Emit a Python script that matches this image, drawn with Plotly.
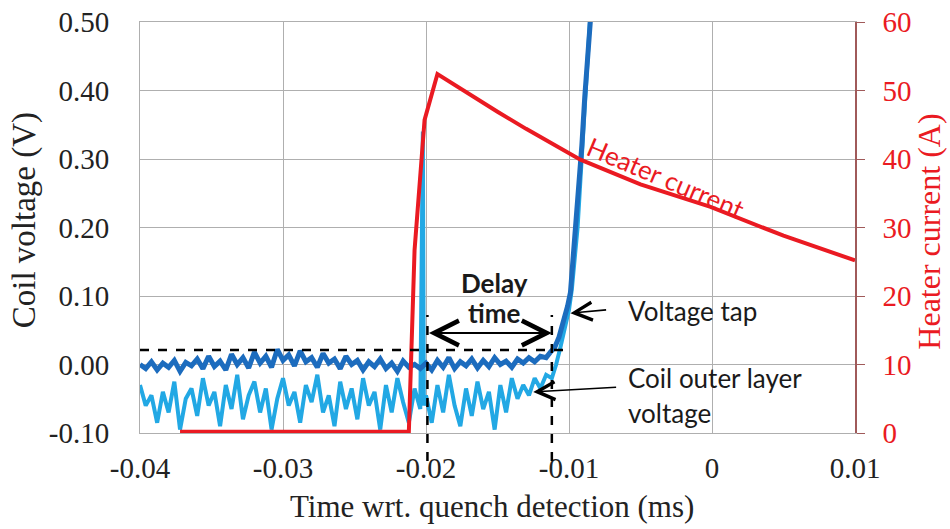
import plotly.graph_objects as go

# ---------------- data ----------------
t_base = [-0.0400, -0.0396, -0.0392, -0.0388, -0.0384, -0.0380, -0.0376, -0.0372, -0.0368, -0.0364,
          -0.0360, -0.0356, -0.0352, -0.0348, -0.0344, -0.0340, -0.0336, -0.0332, -0.0328, -0.0324,
          -0.0320, -0.0316, -0.0312, -0.0308, -0.0304, -0.0300, -0.0296, -0.0292, -0.0288, -0.0284,
          -0.0280, -0.0276, -0.0272, -0.0268, -0.0264, -0.0260, -0.0256, -0.0252, -0.0248, -0.0244,
          -0.0240, -0.0236, -0.0232, -0.0228, -0.0224, -0.0220, -0.0216, -0.0212, -0.0208, -0.0204,
          -0.0200, -0.0196, -0.0192, -0.0188, -0.0184, -0.0180, -0.0176, -0.0172, -0.0168, -0.0164,
          -0.0160, -0.0156, -0.0152, -0.0148, -0.0144, -0.0140, -0.0136, -0.0132, -0.0128, -0.0124,
          -0.0120, -0.0116]

# Voltage tap (dark blue) noise before the rise
tap_noise = [0.000, -0.006, 0.004, -0.008, 0.002, -0.004, 0.006, -0.010, 0.003, -0.002,
             0.008, -0.006, 0.012, -0.003, 0.005, -0.008, 0.015, 0.000, 0.010, -0.005,
             0.018, 0.002, 0.012, -0.004, 0.022, 0.006, 0.014, -0.002, 0.020, 0.004,
             0.010, -0.004, 0.016, 0.002, 0.008, -0.006, 0.012, 0.000, 0.006, -0.008,
             0.004, -0.003, 0.008, -0.006, 0.002, -0.010, 0.005, -0.004, 0.000, -0.006,
             0.002, -0.008, 0.006, -0.004, 0.010, -0.006, 0.004, -0.002, 0.008, -0.005,
             0.006, -0.003, 0.010, 0.000, 0.005, -0.004, 0.008, 0.002, 0.010, 0.004,
             0.012, 0.010]
tap_rise_t = [-0.0113, -0.0110, -0.0107, -0.0104, -0.0101, -0.0099, -0.0097, -0.0095, -0.0093,
              -0.0091, -0.0089, -0.0087, -0.0085, -0.0083]
tap_rise_v = [0.018, 0.025, 0.040, 0.060, 0.085, 0.105, 0.160, 0.200, 0.250,
              0.320, 0.390, 0.450, 0.500, 0.560]

# Coil outer layer voltage (light blue) noise, heater-firing spike, and rise
outer_noise = [-0.030, -0.060, -0.045, -0.085, -0.040, -0.070, -0.025, -0.095, -0.050, -0.035,
               -0.075, -0.020, -0.060, -0.040, -0.090, -0.030, -0.065, -0.015, -0.080, -0.045,
               -0.025, -0.070, -0.035, -0.095, -0.050, -0.020, -0.060, -0.040, -0.085, -0.030,
               -0.055, -0.015, -0.070, -0.045, -0.090, -0.025, -0.065, -0.035, -0.080, -0.020,
               -0.060, -0.040, -0.095, -0.030, -0.070, -0.020, -0.055, -0.085, -0.035, -0.065,
               -0.045, -0.085, -0.030, -0.070, -0.015, -0.060, -0.090, -0.035, -0.075, -0.025,
               -0.065, -0.040, -0.095, -0.030, -0.070, -0.020, -0.050, -0.030, -0.045, -0.020,
               -0.035, -0.015]
spike_t = [-0.02022, -0.02015]
spike_v = [0.34, -0.060]
outer_rise_t = [-0.0112, -0.0109, -0.0106, -0.0103, -0.0100, -0.0098, -0.0096, -0.0094, -0.0092,
                -0.0090, -0.0088, -0.0086, -0.0084]
outer_rise_v = [-0.020, 0.000, 0.025, 0.050, 0.080, 0.110, 0.150, 0.200, 0.270,
                0.340, 0.410, 0.480, 0.550]

# Heater current (red, right axis)
heater_t = [-0.0372, -0.0212, -0.0208, -0.0201, -0.0192, -0.0170, -0.0150, -0.0130, -0.0106,
            -0.0092, -0.0050, -0.0001, 0.0050, 0.0100]
heater_a = [0.2, 0.2, 26.7, 45.7, 52.4, 49.5, 46.9, 44.4, 41.6,
            39.9, 36.3, 33.0, 28.8, 25.2]

# Delay-time markers
delay_start = -0.0199
delay_end = -0.0112
threshold_v = 0.021

x_ticks = [-0.04, -0.03, -0.02, -0.01, 0.0, 0.01]
x_labels = ["-0.04", "-0.03", "-0.02", "-0.01", "0", "0.01"]
y_ticks = [-0.1, 0.0, 0.1, 0.2, 0.3, 0.4, 0.5]
y_labels = ["-0.10", "0.00", "0.10", "0.20", "0.30", "0.40", "0.50"]
y2_ticks = [0, 10, 20, 30, 40, 50, 60]

# ---------------- figure ----------------
tap_t = t_base + tap_rise_t
tap_v = tap_noise + tap_rise_v
outer_t = t_base[:50] + spike_t + t_base[50:] + outer_rise_t
outer_v = outer_noise[:50] + spike_v + outer_noise[50:] + outer_rise_v

LIGHT = "rgb(34,168,228)"
DARK = "rgb(28,108,190)"
RED = "rgb(234,26,34)"
SERIF = "Liberation Serif, Times New Roman, serif"
SANS = "Lato, Open Sans, sans-serif"

fig = go.Figure()
fig.add_trace(go.Scatter(x=outer_t, y=outer_v, mode="lines", name="Coil outer layer voltage",
                         line=dict(color=LIGHT, width=4)))
fig.add_trace(go.Scatter(x=tap_t, y=tap_v, mode="lines", name="Voltage tap",
                         line=dict(color=DARK, width=5)))
fig.add_trace(go.Scatter(x=heater_t, y=heater_a, mode="lines", name="Heater current", yaxis="y2",
                         line=dict(color=RED, width=4)))

GRID = "rgb(175,175,175)"
fig.update_layout(
    width=950, height=529,
    margin=dict(l=140, r=95, t=22, b=96, autoexpand=False),
    paper_bgcolor="white", plot_bgcolor="white",
    showlegend=False,
    xaxis=dict(range=[-0.04, 0.01], tickvals=x_ticks, ticktext=x_labels, automargin=False,
               showgrid=True, gridcolor=GRID, gridwidth=1, zeroline=False,
               showline=True, linecolor=GRID, linewidth=1, mirror=True,
               ticks="", ticklabelstandoff=9,
               tickfont=dict(family=SERIF, size=29, color="#222")),
    yaxis=dict(range=[-0.1, 0.5], tickvals=y_ticks, ticktext=y_labels, automargin=False,
               showgrid=True, gridcolor=GRID, gridwidth=1, zeroline=False,
               showline=True, linecolor=GRID, linewidth=1,
               ticks="", ticklabelstandoff=24,
               tickfont=dict(family=SERIF, size=29, color="#222")),
    yaxis2=dict(range=[0, 60], tickvals=y2_ticks, overlaying="y", side="right", automargin=False,
                showgrid=False, zeroline=False,
                showline=True, linecolor="rgb(160,90,90)", linewidth=1.5,
                ticks="outside", ticklen=8, tickcolor="rgb(160,90,90)", ticklabelstandoff=12,
                tickfont=dict(family=SERIF, size=29, color=RED)),
)

# dashed threshold / delay lines
dash = dict(color="black", width=2.5, dash="dash")
fig.add_shape(type="line", xref="x", yref="y", x0=-0.04, x1=-0.0098, y0=threshold_v, y1=threshold_v,
              line=dash, layer="above")
for xv in (delay_start, delay_end):
    fig.add_shape(type="line", xref="x", yref="paper", x0=xv, x1=xv, y0=-0.068, y1=0.287,
                  line=dash, layer="above")

# double arrow for delay time
fig.add_annotation(x=delay_end, y=0.046, ax=delay_start, ay=0.046, xref="x", yref="y",
                   axref="x", ayref="y", text="", showarrow=True, arrowhead=5, startarrowhead=5,
                   arrowside="end+start", arrowsize=2.2, startarrowsize=2.2, arrowwidth=2.2,
                   arrowcolor="black")
# pointer arrows
fig.add_annotation(x=-0.0099, y=0.075, ax=-0.0073, ay=0.080, xref="x", yref="y",
                   axref="x", ayref="y", text="", showarrow=True, arrowhead=5,
                   arrowsize=2.2, arrowwidth=1.6, arrowcolor="black")
fig.add_annotation(x=-0.0125, y=-0.040, ax=-0.0066, ay=-0.033, xref="x", yref="y",
                   axref="x", ayref="y", text="", showarrow=True, arrowhead=5,
                   arrowsize=2.2, arrowwidth=1.6, arrowcolor="black")

txt = dict(family=SANS, size=26, color="#1a1a1a")
fig.add_annotation(x=-0.01524, y=0.1185, xref="x", yref="y", text="<b>Delay</b>", showarrow=False,
                   font=txt, xanchor="center", yanchor="middle")
fig.add_annotation(x=-0.01524, y=0.0755, xref="x", yref="y", text="<b>time</b>", showarrow=False,
                   font=txt, xanchor="center", yanchor="middle")
fig.add_annotation(x=-0.0060, y=0.078, xref="x", yref="y", text="Voltage tap", showarrow=False,
                   font=txt, xanchor="left", yanchor="middle")
fig.add_annotation(x=-0.0060, y=-0.0197, xref="x", yref="y", text="Coil outer layer", showarrow=False,
                   font=txt, xanchor="left", yanchor="middle")
fig.add_annotation(x=-0.0060, y=-0.0708, xref="x", yref="y", text="voltage", showarrow=False,
                   font=txt, xanchor="left", yanchor="middle")
fig.add_annotation(x=-0.0032, y=0.272, xref="x", yref="y", text="Heater current", showarrow=False,
                   font=dict(family=SANS, size=26, color=RED), textangle=23,
                   xanchor="center", yanchor="middle")

# axis titles
fig.add_annotation(x=-0.162, y=0.518, xref="paper", yref="paper", text="Coil voltage (V)",
                   showarrow=False, textangle=-90, font=dict(family=SERIF, size=33, color="#222"),
                   xanchor="center", yanchor="middle")
fig.add_annotation(x=1.103, y=0.489, xref="paper", yref="paper", text="Heater current (A)",
                   showarrow=False, textangle=-90, font=dict(family=SERIF, size=32, color=RED),
                   xanchor="center", yanchor="middle")
fig.add_annotation(x=0.493, y=-0.18, xref="paper", yref="paper", text="Time wrt. quench detection (ms)",
                   showarrow=False, font=dict(family=SERIF, size=31, color="#222"),
                   xanchor="center", yanchor="middle")

fig.write_html("out.html")
